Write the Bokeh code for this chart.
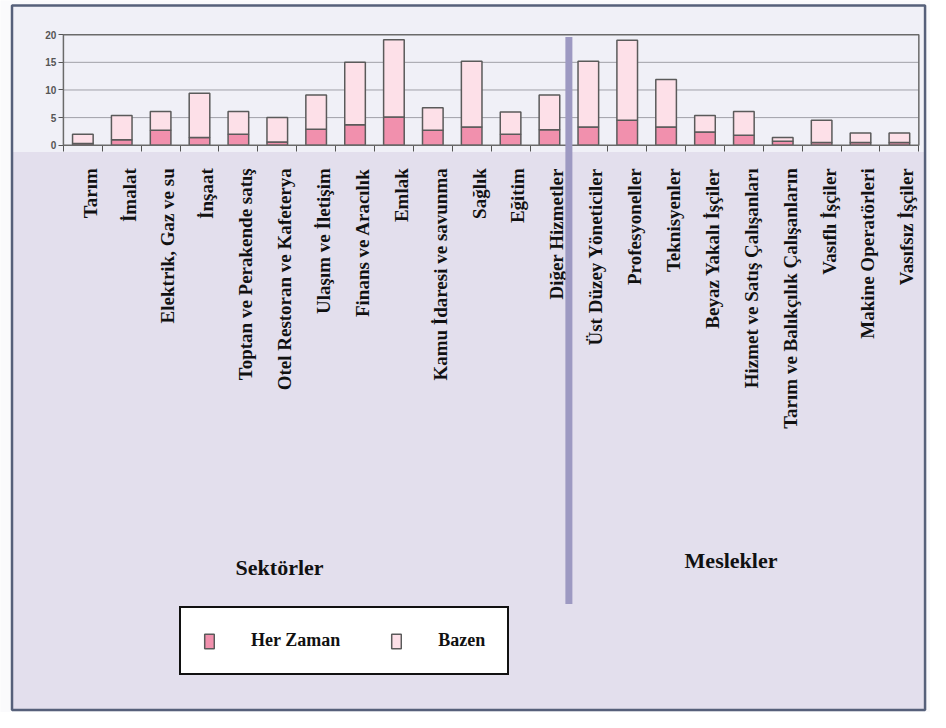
from bokeh.plotting import figure
from bokeh.models import (ColumnDataSource, Range1d, FixedTicker, BoxAnnotation,
                          Label, Legend)
from bokeh.embed import file_html
from bokeh.resources import INLINE

# ---- data -------------------------------------------------------------
sectors = ["Tarım", "İmalat", "Elektrik, Gaz ve su", "İnşaat",
           "Toptan ve Perakende satış", "Otel Restoran ve Kafeterya",
           "Ulaşım ve İletişim", "Finans ve Aracılık", "Emlak",
           "Kamu İdaresi ve savunma", "Sağlık", "Eğitim", "Diğer Hizmetler"]
occupations = ["Üst Düzey Yöneticiler", "Profesyoneller", "Teknisyenler",
               "Beyaz Yakalı İşçiler", "Hizmet ve Satış Çalışanları",
               "Tarım ve Balıkçılık Çalışanların", "Vasıflı İşçiler",
               "Makine Operatörleri", "Vasıfsız İşçiler"]
sector_her_zaman = [0.3, 1.0, 2.7, 1.4, 2.0, 0.6, 2.9, 3.7, 5.1, 2.7, 3.3, 2.0, 2.8]
sector_bazen = [1.7, 4.4, 3.4, 8.0, 4.1, 4.4, 6.2, 11.3, 14.0, 4.1, 11.9, 4.0, 6.3]
occ_her_zaman = [3.3, 4.5, 3.3, 2.4, 1.8, 0.7, 0.5, 0.5, 0.5]
occ_bazen = [11.9, 14.5, 8.6, 3.0, 4.3, 0.7, 4.0, 1.7, 1.7]
y_ticks = [0, 5, 10, 15, 20]
group_titles = ["Sektörler", "Meslekler"]
series_names = ["Her Zaman", "Bazen"]

categories = sectors + occupations
n = len(categories)
split = len(sectors)
xs = [i + 0.5 for i in range(n)]
src = ColumnDataSource(dict(x=xs, cat=categories,
                            her=sector_her_zaman + occ_her_zaman,
                            bazen=sector_bazen + occ_bazen))

# ---- layout constants (whole chart is the frame) -----------------------
W, H = 930, 712
X_LO, X_HI = -1.618, 22.30
Y_LO, Y_HI = -102.65, 26.19
B_LEFT, B_RIGHT, B_TOP, B_BOTTOM = -1.322, 22.16, 25.29, -102.2
LIGHT = "#f0f0f7"
LAV = "#e3dfed"
DIV = "#9d99c2"
DARK = "#555555"

p = figure(width=W, height=H, x_range=Range1d(X_LO, X_HI),
           y_range=Range1d(Y_LO, Y_HI), output_backend="svg",
           toolbar_location=None, min_border=0,
           background_fill_color="#fafafc", border_fill_color="#fafafc",
           outline_line_color=None)
p.title.visible = False

# chart-area fills and outer frame
p.add_layout(BoxAnnotation(left=B_LEFT, right=B_RIGHT, top=B_TOP, bottom=-1.24,
                           fill_color=LIGHT, fill_alpha=1, line_color=None,
                           level="underlay"))
p.add_layout(BoxAnnotation(left=B_LEFT, right=B_RIGHT, top=-1.24, bottom=B_BOTTOM,
                           fill_color=LAV, fill_alpha=1, line_color=None,
                           level="underlay"))
p.add_layout(BoxAnnotation(left=B_LEFT, right=B_RIGHT, top=B_TOP, bottom=B_BOTTOM,
                           fill_alpha=0, line_color="#56607a", line_alpha=1,
                           line_width=2.5, level="overlay"))

# grid lines only across the plot area
inner = [t for t in y_ticks if 0 < t < 20]
p.xgrid.visible = False
p.ygrid.visible = False
p.segment(x0=[0] * len(inner), x1=[n] * len(inner), y0=inner, y1=inner,
          line_color="#a0a0a8", line_width=1)

rs = p.vbar_stack(["her", "bazen"], x="x", width=0.53, source=src,
                  fill_color=["#f190ad", "#fde0e8"], line_color="#5a5a5a",
                  line_width=1.5)

# plot area outline (top / right)
p.add_layout(BoxAnnotation(left=0, right=n, top=20, bottom=0, fill_alpha=0,
                           line_color="#6a6a6a", line_alpha=1, line_width=1.5,
                           level="overlay"))

# divider between sectors and occupations
p.add_layout(BoxAnnotation(left=split - 0.09, right=split + 0.09, top=19.6,
                           bottom=-83, fill_color=DIV, fill_alpha=1,
                           line_color=None, level="overlay"))

# y axis at x = 0
ya = p.yaxis[0]
ya.fixed_location = 0
ya.bounds = (0, 20)
ya.ticker = FixedTicker(ticks=y_ticks)
ya.major_label_text_font = "Liberation Sans"
ya.major_label_text_font_style = "bold"
ya.major_label_text_font_size = "10px"
ya.major_label_text_color = DARK
ya.axis_line_color = DARK
ya.major_tick_line_color = DARK
ya.major_tick_out = 5
ya.major_tick_in = 0
ya.minor_tick_line_color = None
ya.major_label_standoff = 2

# category axis at y = 0
label_pos = [x + 0.19 for x in xs]
xa = p.xaxis[0]
xa.fixed_location = 0
xa.bounds = (0, n)
xa.ticker = FixedTicker(ticks=label_pos, minor_ticks=list(range(n + 1)))
xa.major_label_overrides = {lp: c for lp, c in zip(label_pos, categories)}
xa.major_label_orientation = 1.5707963267948966
xa.major_label_text_font = "Liberation Serif"
xa.major_label_text_font_style = "bold"
xa.major_label_text_font_size = "19px"
xa.major_label_text_color = "#111111"
xa.major_tick_line_color = None
xa.major_tick_out = 0
xa.major_tick_in = 0
xa.major_label_standoff = 17
xa.minor_tick_line_color = DARK
xa.minor_tick_out = 6
xa.minor_tick_in = 0
xa.axis_line_color = DARK

# group titles
for t, gx, gy in [(group_titles[0], 5.56, -76.5), (group_titles[1], 17.17, -75.2)]:
    p.add_layout(Label(x=gx, y=gy, text=t, text_font="Liberation Serif",
                       text_font_style="bold", text_font_size="22px",
                       text_align="center", text_baseline="middle",
                       text_color="#111111"))

legend = Legend(items=[(series_names[0], [rs[0]]), (series_names[1], [rs[1]])],
                location=(179, 37), orientation="horizontal",
                label_text_font="Liberation Serif", label_text_font_style="bold",
                label_text_font_size="18px", label_text_color="#111111",
                glyph_width=12, glyph_height=18,
                label_standoff=36, spacing=50, padding=22, margin=0,
                border_line_color="#111111", border_line_width=2,
                border_line_alpha=1,
                background_fill_color="white", background_fill_alpha=1)
p.add_layout(legend)

open("out.html", "w").write(file_html(p, INLINE))
